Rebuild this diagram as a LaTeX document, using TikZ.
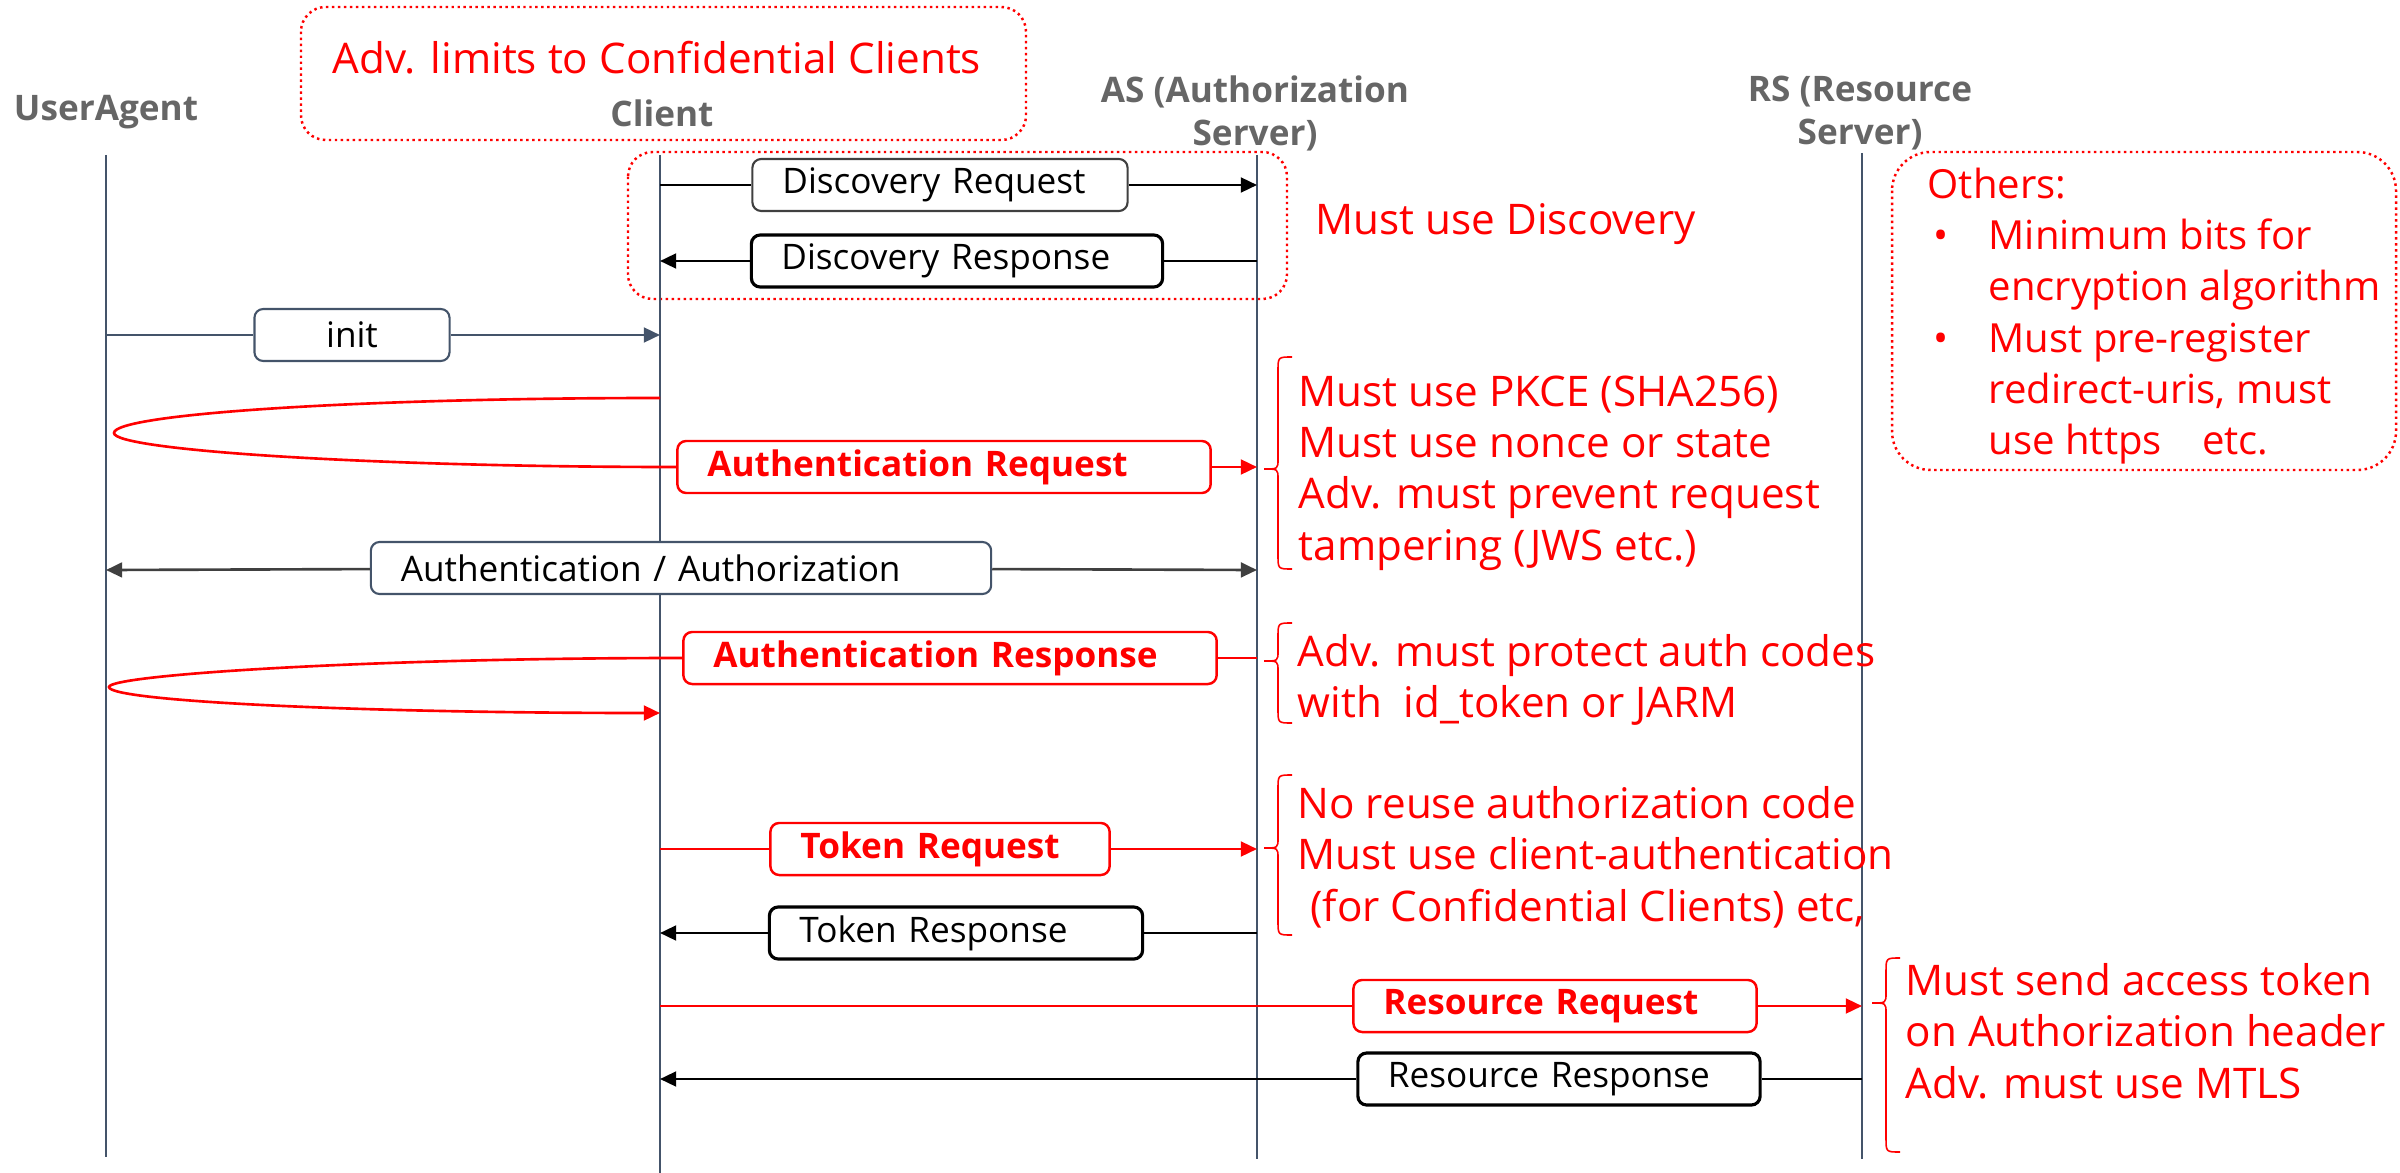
\documentclass[tikz,border=0pt]{standalone}
\usepackage{fontspec}
\setmainfont{Open Sans}
\usepackage{tikz}
\usetikzlibrary{arrows.meta}

\definecolor{slate}{HTML}{44546A}
\definecolor{headgray}{HTML}{666666}
\definecolor{arrowgray}{HTML}{404040}

% left curly brace: x, top, tip, bottom
\newcommand{\redbrace}[4]{%
  \draw[brc] ({#1+14},#2) .. controls (#1,#2) .. ({#1},{#2+14}) -- ({#1},{#3-10})
    .. controls (#1,#3) .. ({#1-14},#3) .. controls (#1,#3) .. ({#1},{#3+10})
    -- ({#1},{#4-14}) .. controls (#1,#4) .. ({#1+14},#4);}

\begin{document}
\begin{tikzpicture}[x=0.01cm, y=-0.01cm, >={Triangle[length=4.6pt,width=4.2pt]},
    life/.style={slate, line width=0.45pt},
    head/.style={headgray, align=center, font=\bfseries\fontsize{10}{12.2}\selectfont},
    msg/.style={draw, fill=white, rounded corners=2.5pt, line width=0.6pt, minimum height=0.52cm,
      inner ysep=1pt, inner xsep=0.3cm, text width=#1, align=left, font=\fontsize{10}{12}\selectfont},
    redmsg/.style={msg=#1, draw=red, text=red, line width=0.7pt, font=\bfseries\fontsize{10}{12}\selectfont},
    msgline/.style={line width=0.75pt},
    note/.style={red, anchor=west, inner sep=0pt, align=left, font=\fontsize{12}{14.6}\selectfont},
    dots/.style={red, line width=0.7pt, densely dotted, rounded corners=7pt},
    brc/.style={red, line width=0.45pt}]
  \useasboundingbox (0,0) rectangle (2400,1173);

  % dotted frames
  \draw[dots] (301,7) rectangle (1026,140);
  \draw[dots] (628,152) rectangle (1287,299);
  \draw[dots, rounded corners=11pt] (1892,152) rectangle (2396,470);

  % heads and lifelines
  \node[head] (ua) at (106,112) {UserAgent};
  \node[head] (cl) at (662,113) {Client};
  \node[head] (as) at (1255,113) {AS (Authorization\\Server)};
  \node[head] (rs) at (1860,113) {RS (Resource\\Server)};
  \node[note, anchor=center] (adv) at (657,58) {Adv. limits to Confidential Clients};

  \coordinate (ua-t) at (106,155); \coordinate (ua-b) at (106,1157);
  \coordinate (cl-t) at (660,155); \coordinate (cl-b) at (660,1173);
  \coordinate (as-t) at (1257,155); \coordinate (as-b) at (1257,1159);
  \coordinate (rs-t) at (1862,153); \coordinate (rs-b) at (1862,1159);
  \draw[life] (ua-t) -- (ua-b);
  \draw[life] (cl-t) -- (cl-b);
  \draw[life] (as-t) -- (as-b);
  \draw[life] (rs-t) -- (rs-b);

  % discovery
  \coordinate (c1) at (660,185); \coordinate (a1) at (1257,185);
  \node[msg=3.15cm, draw=arrowgray] (dreq) at (940,185) {Discovery Request};
  \draw[->, msgline] (c1) -- (dreq) -- (a1); % client -> AS
  \coordinate (a2) at (1257,261); \coordinate (c2) at (660,261);
  \node[msg=3.51cm, line width=0.9pt] (dresp) at (957,261) {Discovery Response};
  \draw[->, msgline] (a2) -- (dresp) -- (c2); % AS -> client
  \node[note] (n0) at (1315,224) {Must use Discovery};

  % init
  \coordinate (u3) at (106,335); \coordinate (c3) at (660,335);
  \node[msg=1.35cm, draw=slate, align=center] (init) at (352,335) {init};
  \draw[->, msgline, slate] (u3) -- (init) -- (c3);

  % authentication request, via the user agent
  \coordinate (c4) at (660,398); \coordinate (u4) at (114,433); \coordinate (a4) at (1257,467);
  \node[redmsg=4.73cm] (areq) at (944,467) {Authentication Request};
  \draw[msgline, red] (c4) .. controls (359,398) and (114,414) .. (u4)
    .. controls (114,450) and (367,467) .. (areq.west);
  \draw[->, msgline, red] (areq) -- (a4);
  \redbrace{1278}{357}{469}{569}
  \node[note] (n1) at (1298,473) {Must use PKCE (SHA256)\\Must use nonce or state\\Adv. must prevent request\\tampering (JWS etc.)};

  % authentication / authorization
  \coordinate (u5) at (106,570); \coordinate (a5) at (1257,570);
  \node[msg=5.6cm, draw=slate] (authz) at (681,568) {Authentication / Authorization};
  \draw[->, msgline, arrowgray] (authz) -- (u5);
  \draw[->, msgline, arrowgray] (authz) -- (a5);

  % authentication response, via the user agent
  \coordinate (a6) at (1257,658); \coordinate (u6) at (109,687); \coordinate (c6) at (660,713);
  \node[redmsg=4.73cm] (aresp) at (950,658) {Authentication Response};
  \draw[msgline, red] (a6) -- (aresp);
  \draw[->, msgline, red] (aresp.west) .. controls (367,658) and (109,675) .. (u6)
    .. controls (109,701) and (354,713) .. (c6);
  \redbrace{1278}{623}{661}{723}
  \node[note] (n2) at (1297,680) {Adv. must protect auth codes\\with\ \ id\_token or JARM};

  % token
  \coordinate (c7) at (660,849); \coordinate (a7) at (1257,849);
  \node[redmsg=2.79cm] (treq) at (940,849) {Token Request};
  \draw[->, msgline, red] (c7) -- (treq) -- (a7);
  \coordinate (a8) at (1257,933); \coordinate (c8) at (660,933);
  \node[msg=3.13cm, line width=0.9pt] (tresp) at (956,933) {Token Response};
  \draw[->, msgline] (a8) -- (tresp) -- (c8);
  \redbrace{1278}{775}{848}{935}
  \node[note] (n3) at (1297,857) {No reuse authorization code\\Must use client-authentication\\\hspace*{0.3em}(for Confidential Clients) etc,};

  % resource
  \coordinate (c9) at (660,1006); \coordinate (r9) at (1862,1006);
  \node[redmsg=3.43cm] (rreq) at (1555,1006) {Resource Request};
  \draw[->, msgline, red] (c9) -- (rreq) -- (r9);
  \coordinate (r10) at (1862,1079); \coordinate (c10) at (660,1079);
  \node[msg=3.42cm, line width=0.9pt] (rresp) at (1559,1079) {Resource Response};
  \draw[->, msgline] (r10) -- (rresp) -- (c10);
  \redbrace{1886}{958}{1003}{1152}
  \node[note] (n4) at (1905,1031) {Must send access token\\on Authorization header\\Adv. must use MTLS};

  % others
  \node[note, font=\fontsize{11.4}{14.6}\selectfont] (others) at (1927,316) {Others:\\
    \hspace*{0.06cm}\makebox[0.55cm][l]{\textbullet}Minimum bits for\\
    \hspace*{0.61cm}encryption algorithm\\
    \hspace*{0.06cm}\makebox[0.55cm][l]{\textbullet}Must pre-register\\
    \hspace*{0.61cm}redirect-uris, must\\
    \hspace*{0.61cm}use https\hspace{0.4cm}etc.};
\end{tikzpicture}
\end{document}
